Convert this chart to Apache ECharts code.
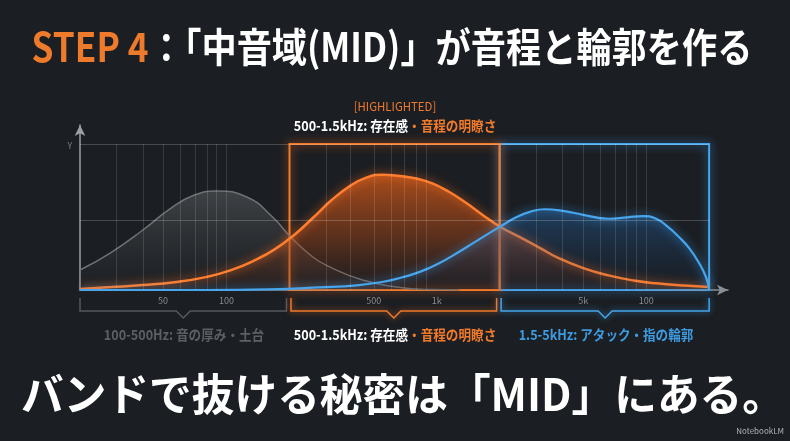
<!DOCTYPE html>
<html>
<head>
<meta charset="utf-8">
<script src="https://cdn.jsdelivr.net/npm/echarts@6/dist/echarts.min.js"></script>
<style>
  html, body { margin: 0; padding: 0; background: #1b1e22; }
  #chart { width: 790px; height: 441px; }
</style>
</head>
<body>
<div id="chart"></div>
<script>
// position along the (log-like) frequency axis: 0..100, level: 0..100
const lowBand = [
  [0, 13.7], [4.8, 25.3], [10, 41.1], [14.3, 55.5], [17.9, 64.5], [21.7, 67.8],
  [26.5, 63.7], [30.6, 50.0], [33.5, 36.3], [37.0, 22.6], [39.7, 15.8],
  [44.9, 6.8], [50.3, 2.1], [55.6, 0.3], [60.3, 0]
];
const midBand = [
  [0, 0.7], [5, 2], [10, 3.4], [15, 5.3], [20, 8.8], [24, 13.6], [28, 20.8],
  [31, 28], [34, 37.5], [37, 49.3], [40, 61.6], [43, 71.5], [45.5, 77],
  [48, 79], [50.5, 78.3], [53.5, 76.3], [56, 73], [58.7, 67.1], [61.4, 59.6],
  [64, 51.4], [66.7, 43.5], [70, 36], [73, 29], [76, 22], [80, 15], [84, 10],
  [88, 6.5], [92, 4.4], [96, 3], [100, 2.1]
];
const highBand = [
  [0, 0], [20, 0], [30, 0.5], [38, 1.8], [44, 3.2], [48, 5.5], [51, 8.4],
  [54, 12.4], [57, 18.2], [60, 25.5], [63, 33.5], [66.7, 43.2], [69.4, 50],
  [71.5, 53.5], [73.8, 55.3], [76.5, 54.4], [80, 51.5], [84, 48.8], [87, 49.8],
  [89.5, 50.6], [91.5, 49], [93.5, 43], [95.2, 36.3], [96.8, 28.8],
  [98.4, 18.5], [99.5, 8.9], [100, 0.7]
];
const bandEdges = [0, 33.3, 66.7, 100];
const xTicks = [13.2, 23.3, 46.7, 56.7, 80, 90];
const xTickLabels = ['50', '100', '500', '1k', '5k', '100'];
const gridX = [
  5.8, 10, 13.2, 15.9, 18.3, 20.2, 21.7, 23.3,
  39.2, 42.9, 46.7, 49.4, 51.6, 53.5, 55.1,
  72.5, 76.7, 80, 82.7, 85.1, 86.8, 88.4, 90
];
const gridY = [48, 100];

const titleMain = 'STEP 4';
const titleRest = '：「中音域(MID)」が音程と輪郭を作る';
const highlightTag = '[HIGHLIGHTED]';
const midHead = '500-1.5kHz: 存在感';
const midTail = '・音程の明瞭さ';
const lowLabel = '100-500Hz: 音の厚み・土台';
const highLabel = '1.5-5kHz: アタック・指の輪郭';
const footer = 'バンドで抜ける秘密は「MID」にある。';

const ORANGE = '#f07a2c';
const BLUE = '#46a5ec';
const FONT = '"Noto Sans CJK JP", "Noto Sans", sans-serif';

const chart = echarts.init(document.getElementById('chart'));

function grad(top, mid, bottom) {
  return new echarts.graphic.LinearGradient(0, 0, 0, 1, [
    { offset: 0, color: top },
    { offset: 0.55, color: mid },
    { offset: 1, color: bottom }
  ]);
}

const option = {
  backgroundColor: '#1b1e22',
  animation: false,
  grid: { left: 80, right: 62, top: 125, bottom: 151 },
  xAxis: {
    type: 'value',
    min: 0,
    max: 103,
    splitLine: { show: false },
    axisTick: { show: false },
    axisLine: {
      lineStyle: { color: '#8a9096', width: 1.5 },
      symbol: ['none', 'arrow'],
      symbolSize: [8, 11]
    },
    axisLabel: {
      customValues: xTicks,
      color: '#8a8d91',
      fontSize: 9,
      fontFamily: FONT,
      margin: 6,
      formatter: function (v) {
        const i = xTicks.indexOf(v);
        return i >= 0 ? xTickLabels[i] : '';
      }
    }
  },
  yAxis: {
    type: 'value',
    min: 0,
    max: 113,
    splitLine: { show: false },
    axisTick: { show: false },
    axisLabel: { show: false },
    axisLine: {
      show: true,
      lineStyle: { color: '#9aa0a6', width: 1.5 },
      symbol: ['none', 'arrow'],
      symbolSize: [8, 11]
    }
  },
  series: [
    {
      name: 'grid',
      type: 'line',
      data: [[0, 0]],
      showSymbol: false,
      lineStyle: { opacity: 0 },
      silent: true,
      z: 1,
      markLine: {
        silent: true,
        symbol: 'none',
        label: { show: false },
        lineStyle: { color: 'rgba(255,255,255,0.13)', width: 1, type: 'solid' },
        data: gridX.map(x => [{ coord: [x, 0] }, { coord: [x, 100] }])
          .concat(gridY.map(y => [
            { coord: [0, y], lineStyle: { color: 'rgba(255,255,255,0.2)' } },
            { coord: [100, y] }
          ]))
      }
    },
    {
      name: 'low',
      type: 'line',
      data: lowBand,
      smooth: 0.5,
      showSymbol: false,
      z: 2,
      lineStyle: { color: '#6f7275', width: 1.5 },
      areaStyle: { color: grad('rgba(130,132,135,0.5)', 'rgba(95,97,100,0.3)', 'rgba(60,62,65,0.1)') }
    },
    {
      name: 'mid',
      type: 'line',
      data: midBand,
      smooth: 0.5,
      showSymbol: false,
      z: 3,
      lineStyle: { color: '#ff7d2e', width: 2.5, shadowBlur: 10, shadowColor: 'rgba(255,110,30,0.9)' },
      areaStyle: { color: grad('rgba(244,102,24,0.95)', 'rgba(190,75,20,0.55)', 'rgba(110,45,20,0.12)') }
    },
    {
      name: 'high',
      type: 'line',
      data: highBand,
      smooth: 0.5,
      showSymbol: false,
      z: 4,
      lineStyle: { color: BLUE, width: 2.2, shadowBlur: 10, shadowColor: 'rgba(60,160,240,0.9)' },
      areaStyle: { color: grad('rgba(40,125,210,0.5)', 'rgba(30,90,160,0.25)', 'rgba(20,60,110,0.05)') }
    },
    {
      name: 'frames',
      type: 'line',
      data: [[0, 0]],
      showSymbol: false,
      lineStyle: { opacity: 0 },
      silent: true,
      z: 6,
      markArea: {
        silent: true,
        label: { show: false },
        data: [
          [
            { coord: [bandEdges[2], 0], itemStyle: { color: 'rgba(0,0,0,0)', borderColor: BLUE, borderWidth: 2, shadowBlur: 10, shadowColor: 'rgba(60,160,240,0.9)' } },
            { coord: [bandEdges[3], 100] }
          ],
          [
            { coord: [bandEdges[1], 0], itemStyle: { color: 'rgba(0,0,0,0)', borderColor: ORANGE, borderWidth: 2, shadowBlur: 10, shadowColor: 'rgba(255,110,30,0.9)' } },
            { coord: [bandEdges[2], 100] }
          ]
        ]
      }
    }
  ]
};

chart.setOption(option);

// brackets under the axis, placed from the axis scale
function px(x) { return chart.convertToPixel({ gridIndex: 0 }, [x, 0]); }
const bracketColors = ['#55585c', ORANGE, BLUE];
const glow = ['rgba(0,0,0,0)', 'rgba(255,110,30,0.8)', 'rgba(60,160,240,0.8)'];
const graphics = [];
for (let i = 0; i < 3; i++) {
  const a = px(bandEdges[i])[0] + (i === 0 ? 0 : 1.5);
  const b = px(bandEdges[i + 1])[0] - (i === 2 ? 0 : 3);
  const m = (a + b) / 2;
  const y0 = 298, y1 = 311, y2 = 318;
  graphics.push({
    type: 'polyline',
    silent: true,
    shape: { points: [[a, y0], [a, y1], [m - 7, y1], [m, y2], [m + 7, y1], [b, y1], [b, y0]] },
    style: { stroke: bracketColors[i], lineWidth: 1.5, fill: null, shadowBlur: 6, shadowColor: glow[i] }
  });
}

const labelFont = 'bold 14px ' + FONT;
graphics.push(
  {
    type: 'text', x: 392, y: 47, scaleX: 0.88,
    style: {
      text: '{o|' + titleMain + '}{w|' + titleRest + '}',
      align: 'center', verticalAlign: 'middle',
      rich: {
        o: { fill: '#ee7a2c', font: 'bold 40px ' + FONT },
        w: { fill: '#ffffff', font: 'bold 40px ' + FONT }
      }
    }
  },
  {
    type: 'text', x: 395, y: 106, scaleX: 0.95,
    style: { text: highlightTag, align: 'center', verticalAlign: 'middle', fill: ORANGE, font: '12px ' + FONT }
  },
  {
    type: 'text', x: 395, y: 126, scaleX: 0.9,
    style: {
      text: '{w|' + midHead + '}{o|' + midTail + '}',
      align: 'center', verticalAlign: 'middle',
      rich: { w: { fill: '#ffffff', font: labelFont }, o: { fill: ORANGE, font: labelFont } }
    }
  },
  {
    type: 'text', x: 70, y: 146,
    style: { text: 'Y', align: 'center', verticalAlign: 'middle', fill: '#7a7e83', font: '9px ' + FONT }
  },
  {
    type: 'text', x: 184, y: 335, scaleX: 0.9,
    style: { text: lowLabel, align: 'center', verticalAlign: 'middle', fill: '#5c5f63', font: labelFont }
  },
  {
    type: 'text', x: 395, y: 335, scaleX: 0.9,
    style: {
      text: '{w|' + midHead + '}{o|' + midTail + '}',
      align: 'center', verticalAlign: 'middle',
      rich: { w: { fill: '#ffffff', font: labelFont }, o: { fill: ORANGE, font: labelFont } }
    }
  },
  {
    type: 'text', x: 606, y: 335, scaleX: 0.9,
    style: { text: highLabel, align: 'center', verticalAlign: 'middle', fill: '#3d9be0', font: labelFont }
  },
  {
    type: 'text', x: 403, y: 394, scaleX: 0.97,
    style: { text: footer, align: 'center', verticalAlign: 'middle', fill: '#ffffff', font: 'bold 44px ' + FONT }
  },
  {
    type: 'text', x: 784, y: 431,
    style: { text: 'NotebookLM', align: 'right', verticalAlign: 'middle', fill: '#b0b3b7', font: '8px ' + FONT }
  }
);

chart.setOption({ graphic: graphics });
</script>
</body>
</html>
